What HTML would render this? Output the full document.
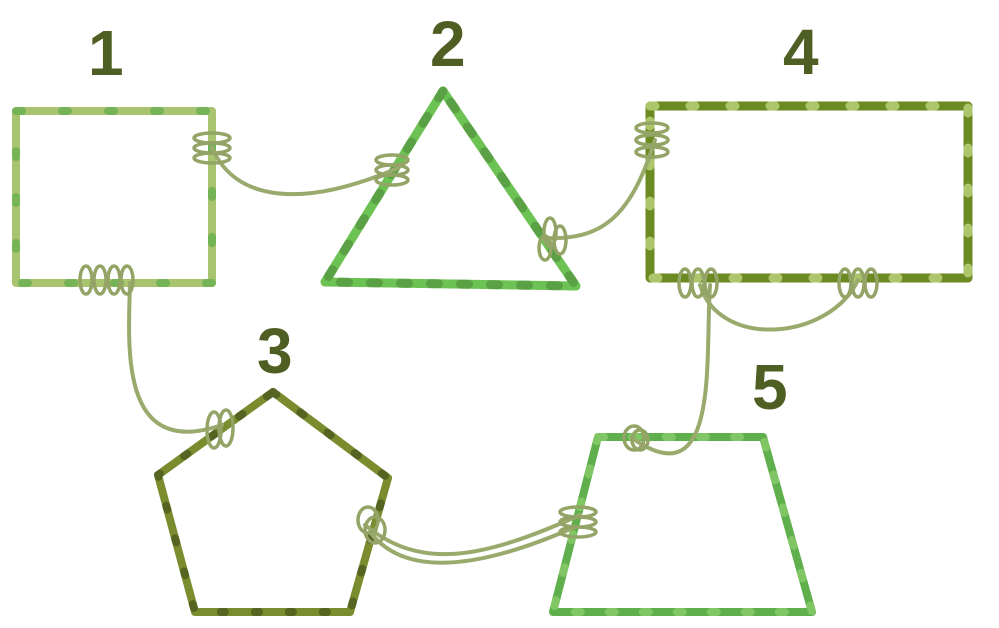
<!DOCTYPE html>
<html><head><meta charset="utf-8"><style>
html,body{margin:0;padding:0;background:#fff;}
svg{display:block}
text{font-family:"Liberation Sans",sans-serif;font-weight:bold;fill:#4f5e22;}
</style></head><body>
<svg width="999" height="628" viewBox="0 0 999 628" xmlns="http://www.w3.org/2000/svg">
<g fill="none" stroke-linejoin="round" stroke-linecap="round">
<!-- 1 square -->
<rect x="16" y="111" width="196" height="172" stroke="#a9c46e" stroke-width="8"/>
<rect x="16" y="111" width="196" height="172" stroke="#5fae4c" stroke-width="8" stroke-dasharray="6 40" opacity=".7"/>
<!-- 2 triangle -->
<path d="M443,91 L325,282 L576,286 Z" stroke="#6cc353" stroke-width="9"/>
<path d="M443,91 L325,282 L576,286 Z" stroke="#4d8a3a" stroke-width="9" stroke-dasharray="8 22" opacity=".6"/>
<!-- 4 rect -->
<rect x="650" y="106" width="318" height="172" stroke="#6c8a22" stroke-width="9"/>
<rect x="650" y="106" width="318" height="172" stroke="#c9e08a" stroke-width="9" stroke-dasharray="5 35" opacity=".7"/>
<!-- 3 pentagon -->
<path d="M273,392 L388,478 L350,612 L195,612 L158,475 Z" stroke="#7a8c2e" stroke-width="8"/>
<path d="M273,392 L388,478 L350,612 L195,612 L158,475 Z" stroke="#3e4a1a" stroke-width="8" stroke-dasharray="4 30" opacity=".6"/>
<!-- 5 trapezoid -->
<path d="M598,437 L763,437 L812,612 L553,612 Z" stroke="#5fb04c" stroke-width="8"/>
<path d="M598,437 L763,437 L812,612 L553,612 Z" stroke="#8fd070" stroke-width="8" stroke-dasharray="6 28" opacity=".7"/>

<!-- vines -->
<g stroke="#9aaa6c" stroke-width="4">
<path d="M212,148 C235,200 300,210 398,168"/>
<path d="M545,238 C600,240 630,220 655,140"/>
<path d="M130,283 C128,350 120,460 222,425"/>
<path d="M710,285 C705,360 720,500 632,438"/>
<path d="M700,285 C720,350 830,340 858,280"/>
<path d="M365,525 C420,570 480,560 580,515"/>
<path d="M370,532 C410,585 500,560 575,527"/>
</g>
<!-- coils -->
<g stroke="#93a466" stroke-width="3.5">
<ellipse cx="212" cy="138" rx="18" ry="5"/><ellipse cx="212" cy="148" rx="18" ry="5"/><ellipse cx="212" cy="158" rx="18" ry="5"/>
<ellipse cx="392" cy="160" rx="16" ry="5"/><ellipse cx="392" cy="170" rx="16" ry="5"/><ellipse cx="392" cy="180" rx="16" ry="5"/>
<ellipse cx="550" cy="232" rx="6" ry="14"/><ellipse cx="560" cy="240" rx="6" ry="14"/><ellipse cx="545" cy="248" rx="6" ry="12"/>
<ellipse cx="652" cy="128" rx="16" ry="5"/><ellipse cx="652" cy="140" rx="16" ry="5"/><ellipse cx="652" cy="152" rx="16" ry="5"/>
<ellipse cx="86" cy="280" rx="6" ry="14"/><ellipse cx="100" cy="280" rx="6" ry="14"/><ellipse cx="114" cy="280" rx="6" ry="14"/><ellipse cx="127" cy="280" rx="6" ry="14"/>
<ellipse cx="214" cy="430" rx="7" ry="18"/><ellipse cx="226" cy="428" rx="7" ry="18"/>
<ellipse cx="685" cy="283" rx="6" ry="14"/><ellipse cx="698" cy="283" rx="6" ry="14"/><ellipse cx="711" cy="283" rx="6" ry="14"/>
<ellipse cx="845" cy="283" rx="6" ry="14"/><ellipse cx="858" cy="283" rx="6" ry="14"/><ellipse cx="871" cy="283" rx="6" ry="14"/>
<ellipse cx="634" cy="438" rx="10" ry="12"/><ellipse cx="640" cy="440" rx="8" ry="10"/>
<ellipse cx="368" cy="520" rx="10" ry="13"/><ellipse cx="375" cy="530" rx="10" ry="13"/>
<ellipse cx="578" cy="512" rx="18" ry="5"/><ellipse cx="578" cy="522" rx="18" ry="5"/><ellipse cx="578" cy="532" rx="18" ry="5"/>
</g>
</g>
<text x="88" y="75" font-size="64">1</text>
<text x="430" y="66" font-size="64">2</text>
<text x="783" y="74" font-size="64">4</text>
<text x="257" y="373" font-size="64">3</text>
<text x="752" y="409" font-size="64">5</text>
</svg>
</body></html>
